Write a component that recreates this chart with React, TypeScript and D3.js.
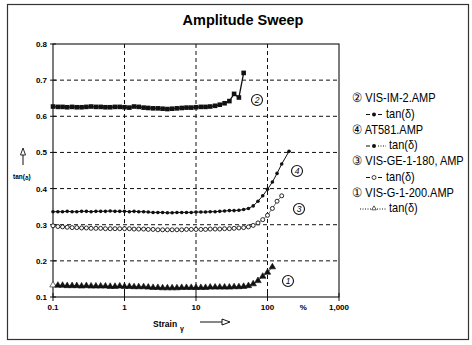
import React from 'react';
import * as d3 from 'd3';

// strain values (%), shared by all four sweeps
const STRAIN = [
  0.1, 0.117, 0.136, 0.158, 0.185, 0.215, 0.251, 0.293, 0.341, 0.398, 0.464, 0.541, 0.631, 0.736, 0.858,
  1, 1.17, 1.36, 1.58, 1.85, 2.15, 2.51, 2.93, 3.41, 3.98, 4.64, 5.41, 6.31, 7.36, 8.58,
  10, 11.7, 13.6, 15.8, 18.5, 21.5, 25.1, 29.3, 34.1, 39.8, 46.4, 54.1, 63.1, 73.6, 85.8,
  100, 117, 136, 158, 200,
];

// tan(delta) per sample
const VIS_IM_2 = [
  0.627, 0.626, 0.626, 0.625, 0.626, 0.625, 0.625, 0.626, 0.627, 0.626, 0.626, 0.625, 0.625, 0.626, 0.626,
  0.625, 0.624, 0.627, 0.626, 0.624, 0.623, 0.622, 0.622, 0.621, 0.62, 0.621, 0.622, 0.623, 0.624, 0.624,
  0.625, 0.626, 0.626, 0.627, 0.629, 0.632, 0.636, 0.642, 0.662, 0.652, 0.72,
];
const AT581 = [
  0.336, 0.336, 0.336, 0.337, 0.336, 0.336, 0.337, 0.337, 0.336, 0.337, 0.337, 0.337, 0.338, 0.337, 0.337,
  0.337, 0.336, 0.337, 0.336, 0.336, 0.335, 0.334, 0.334, 0.334, 0.333, 0.333, 0.334, 0.334, 0.334, 0.334,
  0.335, 0.335, 0.335, 0.336, 0.336, 0.337, 0.338, 0.339, 0.339, 0.34, 0.342, 0.345, 0.352, 0.365, 0.38,
  0.398, 0.418, 0.442, 0.468, 0.503,
];
const VIS_GE_1_180 = [
  0.297, 0.295, 0.294, 0.293, 0.292, 0.292, 0.291, 0.291, 0.29, 0.29, 0.29, 0.289, 0.289, 0.289, 0.289,
  0.289, 0.289, 0.288, 0.288, 0.288, 0.287, 0.287, 0.286, 0.286, 0.286, 0.286, 0.286, 0.286, 0.287, 0.287,
  0.287, 0.287, 0.287, 0.288, 0.288, 0.288, 0.289, 0.289, 0.29, 0.291, 0.292, 0.294, 0.298, 0.305, 0.314,
  0.326, 0.345, 0.365, 0.38,
];
const VIS_G_1_200 = [
  0.133, 0.132, 0.132, 0.131, 0.131, 0.131, 0.13, 0.131, 0.13, 0.13, 0.13, 0.13, 0.129, 0.129, 0.13,
  0.129, 0.129, 0.128, 0.128, 0.128, 0.127, 0.126, 0.126, 0.125, 0.125, 0.125, 0.125, 0.126, 0.126, 0.126,
  0.126, 0.126, 0.126, 0.127, 0.127, 0.127, 0.127, 0.127, 0.128, 0.128, 0.129, 0.131, 0.136, 0.145, 0.157,
  0.168, 0.183,
];

const Y_TICKS = [0.1, 0.2, 0.3, 0.4, 0.5, 0.6, 0.7, 0.8];
const X_TICKS = [0.1, 1, 10, 100, 1000];
const X_LABELS = ['0.1', '1', '10', '100', '1,000'];

const LEGEND = [
  { num: '②', name: 'VIS-IM-2.AMP', kind: 'square' },
  { num: '④', name: 'AT581.AMP', kind: 'dot' },
  { num: '③', name: 'VIS-GE-1-180, AMP', kind: 'circle' },
  { num: '①', name: 'VIS-G-1-200.AMP', kind: 'tri' },
];

const W = 472;
const H = 345;
const font = '"Liberation Sans", Arial, sans-serif';

const x = d3.scaleLog().domain([0.1, 1000]).range([53, 339]);
const y = d3.scaleLinear().domain([0.1, 0.8]).range([297, 44]);

const pts = (vals: number[]) => vals.map((v, i) => [x(STRAIN[i]), y(v)] as [number, number]);
const line = d3.line();
const tri = d3.symbol().type(d3.symbolTriangle).size(18)() as string;
const triSmall = d3.symbol().type(d3.symbolTriangle).size(9)() as string;

const Label = ({ cx, cy, n }: { cx: number; cy: number; n: string }) => (
  <g>
    <circle cx={cx} cy={cy} r={5.5} fill="white" stroke="#111" strokeWidth={1.1} />
    <text x={cx} y={cy + 3} textAnchor="middle" fontSize={8.5} fontStyle="italic" fontFamily={font}>{n}</text>
  </g>
);

export default function App() {
  const im2 = pts(VIS_IM_2);
  const at = pts(AT581);
  const ge = pts(VIS_GE_1_180);
  const g1 = pts(VIS_G_1_200);
  const [x0, x1] = x.range();
  const [yb, yt] = y.range();

  return (
    <svg width={W} height={H} style={{ position: 'absolute', left: 0, top: 0, background: 'white' }}>
      <rect x={7.5} y={4.5} width={461} height={335} fill="none" stroke="#333" strokeWidth={1.2} />
      <text x={243} y={25} textAnchor="middle" fontFamily={font} fontWeight="bold" fontSize={14.5}>Amplitude Sweep</text>

      {/* grid */}
      {Y_TICKS.slice(1, -1).map(t => (
        <line key={'gy' + t} x1={x0} x2={x1} y1={y(t)} y2={y(t)} stroke="#111" strokeWidth={1} strokeDasharray="4 3" />
      ))}
      {X_TICKS.slice(1, -1).map(t => (
        <line key={'gx' + t} x1={x(t)} x2={x(t)} y1={yt} y2={yb} stroke="#111" strokeWidth={1} strokeDasharray="4 3" />
      ))}
      <rect x={x0} y={yt} width={x1 - x0} height={yb - yt} fill="none" stroke="#111" strokeWidth={1.1} />

      {/* ticks */}
      {Y_TICKS.map(t => (
        <g key={'ty' + t}>
          <line x1={x0 - 3} x2={x0 + 3} y1={y(t)} y2={y(t)} stroke="#111" strokeWidth={1} />
          <text x={x0 - 6} y={y(t) + 3} textAnchor="end" fontFamily={font} fontWeight="bold" fontSize={8}>{t.toFixed(1)}</text>
        </g>
      ))}
      {X_TICKS.map((t, i) => (
        <g key={'tx' + t}>
          <line x1={x(t)} x2={x(t)} y1={yb - 4} y2={yb + 4} stroke="#111" strokeWidth={1} />
          <text x={x(t)} y={yb + 13} textAnchor="middle" fontFamily={font} fontWeight="bold" fontSize={8}>{X_LABELS[i]}</text>
        </g>
      ))}
      <text x={x(316)} y={yb + 13} textAnchor="middle" fontFamily={font} fontWeight="bold" fontSize={8}>%</text>

      {/* axis titles */}
      <text x={153} y={327} fontFamily={font} fontWeight="bold" fontSize={8.5}>Strain</text>
      <text x={180} y={331} fontFamily={font} fontWeight="bold" fontSize={7}>γ</text>
      <line x1={200} x2={222} y1={322} y2={322} stroke="#111" strokeWidth={1} />
      <path d="M222,319 L230,322 L222,325 Z" fill="white" stroke="#111" strokeWidth={1} />
      <line x1={23} x2={23} y1={165} y2={154} stroke="#111" strokeWidth={1} />
      <path d="M20.5,155 L23,148 L25.5,155 Z" fill="white" stroke="#111" strokeWidth={0.9} />
      <text x={13} y={179} fontFamily={font} fontWeight="bold" fontSize={6.5}>tan(<tspan fontSize={6} dy={1}>δ</tspan><tspan dy={-1}>)</tspan></text>

      {/* series */}
      <path d={line(g1) as string} fill="none" stroke="#111" strokeWidth={0.8} />
      {g1.map(([px, py], i) => (
        <path key={'g1' + i} d={tri} transform={`translate(${px},${py})`} fill={i === 0 ? 'white' : '#111'} stroke="#111" strokeWidth={0.6} />
      ))}
      <path d={line(ge) as string} fill="none" stroke="#111" strokeWidth={0.6} />
      {ge.map(([px, py], i) => (
        <circle key={'ge' + i} cx={px} cy={py} r={2} fill="white" stroke="#111" strokeWidth={0.9} />
      ))}
      <path d={line(at) as string} fill="none" stroke="#111" strokeWidth={1} />
      {at.map(([px, py], i) => (
        <circle key={'at' + i} cx={px} cy={py} r={1.8} fill="#111" />
      ))}
      <path d={line(im2) as string} fill="none" stroke="#111" strokeWidth={1.3} />
      {im2.map(([px, py], i) => (
        <rect key={'im' + i} x={px - 2.3} y={py - 2.3} width={4.6} height={4.6} fill="#111" />
      ))}

      <Label cx={257} cy={100} n="2" />
      <Label cx={297} cy={171} n="4" />
      <Label cx={299} cy={209} n="3" />
      <Label cx={288} cy={281} n="1" />

      {/* legend */}
      {LEGEND.map((d, i) => {
        const ty = 102 + i * 31.5;
        const sy = ty + 15.5;
        const dashed = d.kind === 'square' || d.kind === 'circle';
        return (
          <g key={d.name}>
            <g transform={`translate(352,${ty}) scale(0.88,1)`}>
              <text x={0} y={0} fontFamily={font} fontSize={12.5}>{d.num} {d.name}</text>
            </g>
            {d.kind === 'tri' ? (
              <g>
                <line x1={360} x2={371} y1={sy - 3} y2={sy - 3} stroke="#111" strokeWidth={1} strokeDasharray="1 1.5" />
                <path d={triSmall} transform={`translate(374,${sy - 3.5})`} fill="white" stroke="#111" strokeWidth={0.7} />
                <line x1={377} x2={386} y1={sy - 3} y2={sy - 3} stroke="#111" strokeWidth={1} strokeDasharray="1 1.5" />
              </g>
            ) : (
              <g>
                <line x1={366} x2={370} y1={sy - 3} y2={sy - 3} stroke="#111" strokeWidth={1} />
                {d.kind === 'circle' ? (
                  <circle cx={374} cy={sy - 3} r={2} fill="white" stroke="#111" strokeWidth={0.8} />
                ) : (
                  <circle cx={374} cy={sy - 3} r={2} fill="#111" />
                )}
                <line x1={378} x2={dashed ? 382 : 386} y1={sy - 3} y2={sy - 3} stroke="#111" strokeWidth={1}
                  strokeDasharray={dashed ? undefined : '1 1.5'} />
              </g>
            )}
            <g transform={`translate(${d.kind === 'tri' || d.kind === 'dot' ? 389 : 386},${sy}) scale(0.88,1)`}>
              <text x={0} y={0} fontFamily={font} fontSize={12.5}>tan(δ)</text>
            </g>
          </g>
        );
      })}
    </svg>
  );
}
